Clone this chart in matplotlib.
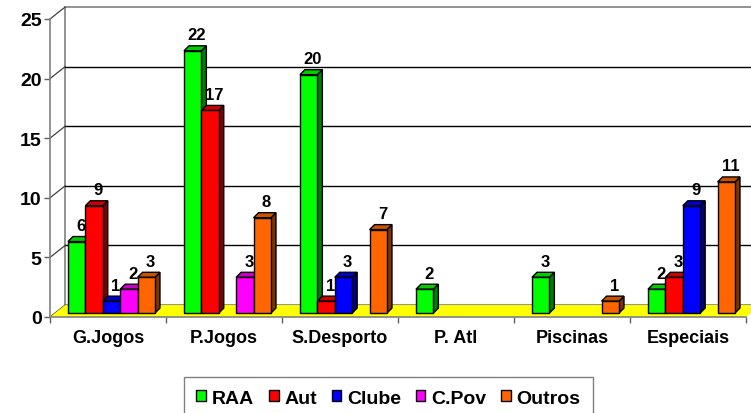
import matplotlib
matplotlib.use('Agg')
import matplotlib.pyplot as plt
import matplotlib.patches as mpatches
from matplotlib.colors import to_rgb

# data
categories = ['G.Jogos', 'P.Jogos', 'S.Desporto', 'P. Atl', 'Piscinas', 'Especiais']
series = ['RAA', 'Aut', 'Clube', 'C.Pov', 'Outros']
raa = [6, 22, 20, 2, 3, 2]
aut = [9, 17, 1, 0, 0, 3]
clube = [1, 0, 3, 0, 0, 9]
cpov = [2, 3, 0, 0, 0, 0]
outros = [3, 8, 7, 0, 1, 11]
values = [raa, aut, clube, cpov, outros]
colors = ['#00ff00', '#ff0000', '#0000ff', '#ff00ff', '#ff6600']
yticks = [0, 5, 10, 15, 20, 25]

plt.rcParams['font.family'] = ['Liberation Sans', 'DejaVu Sans']
plt.rcParams['font.weight'] = 'bold'

W, H = 751, 414
fig = plt.figure(figsize=(W / 100, H / 100), dpi=100)
ax = fig.add_axes([50 / W, 96 / H, 696 / W, 298 / H])
ax.set_xlim(0, len(categories))
ax.set_ylim(0, 25)
ax.set_facecolor('none')

# 3d look offsets (data units)
wall_dx, wall_dy = 0.13, 1.0
bar_dx, bar_dy = 0.043, 0.42
bar_w, group_x0, bar_base = 0.15, 0.155, 0.33
n = len(categories)

def shade(c, f):
    r, g, b = to_rgb(c)
    return (r * f, g * f, b * f)

# back wall
ax.add_patch(mpatches.Polygon([(wall_dx, wall_dy), (n + wall_dx, wall_dy),
                               (n + wall_dx, 25 + wall_dy), (wall_dx, 25 + wall_dy)],
                              closed=True, facecolor='white', edgecolor='#808080',
                              lw=1.2, clip_on=False, zorder=0))
for t in yticks[1:-1]:
    ax.plot([wall_dx, n + wall_dx], [t + wall_dy, t + wall_dy], color='black',
            lw=1, clip_on=False, zorder=0.5)
# left wall diagonals
for t in yticks:
    ax.plot([0, wall_dx], [t, t + wall_dy], color='#404040', lw=0.9,
            clip_on=False, zorder=0.5)
# floor
ax.add_patch(mpatches.Polygon([(0, 0), (n, 0), (n + wall_dx, wall_dy), (wall_dx, wall_dy)],
                              closed=True, facecolor='#ffff00', edgecolor='none',
                              clip_on=False, zorder=1))

# bars
for i in range(n):
    for j, s in enumerate(series):
        v = values[j][i]
        if v == 0:
            continue
        left = i + group_x0 + j * bar_w
        right = left + bar_w
        top = bar_base + v
        z = 3 + j * 0.1
        ax.add_patch(mpatches.Polygon([(right, bar_base), (right + bar_dx, bar_base + bar_dy),
                                       (right + bar_dx, top + bar_dy), (right, top)],
                                      closed=True, facecolor=shade(colors[j], 0.5),
                                      edgecolor='black', lw=1, zorder=z, clip_on=False))
        ax.add_patch(mpatches.Polygon([(left, top), (left + bar_dx, top + bar_dy),
                                       (right + bar_dx, top + bar_dy), (right, top)],
                                      closed=True, facecolor=shade(colors[j], 0.8),
                                      edgecolor='black', lw=1, zorder=z, clip_on=False))
        ax.bar(left, v, width=bar_w, bottom=bar_base, align='edge', color=colors[j],
               edgecolor='black', linewidth=1, zorder=z + 0.01, clip_on=False)
        ax.text(left + bar_w / 2 + bar_dx / 2 + 0.015, top + bar_dy + 0.3, str(v),
                ha='center', va='bottom', fontsize=12, fontweight='bold', zorder=10)

# axes styling
for sp in ['top', 'right']:
    ax.spines[sp].set_visible(False)
for sp in ['left', 'bottom']:
    ax.spines[sp].set_color('#808080')
    ax.spines[sp].set_linewidth(1.2)
    ax.spines[sp].set_zorder(2)

ax.set_yticks(yticks)
ax.set_yticklabels([str(t) for t in yticks], fontsize=14, fontweight='bold')
ax.tick_params(axis='y', length=4, width=1, color='#606060', pad=2)

ax.set_xticks(range(n + 1))
ax.set_xticklabels([])
ax.tick_params(axis='x', which='major', length=4, width=1, color='#606060')
ax.set_xticks([i + 0.5 for i in range(n)], minor=True)
ax.set_xticklabels(categories, minor=True, fontsize=13, fontweight='bold')
ax.tick_params(axis='x', which='minor', length=0, pad=9)

# legend
handles = [mpatches.Patch(facecolor=c, edgecolor='black', label=s)
           for s, c in zip(series, colors)]
fig.legend(handles=handles, loc='upper center', bbox_to_anchor=(388.5 / W, 1 - 378 / H),
           ncol=5, prop={'weight': 'bold', 'size': 14},
           handlelength=0.5, handleheight=0.5, handletextpad=0.3, columnspacing=0.75,
           borderpad=0.65, borderaxespad=0, frameon=True, fancybox=False,
           edgecolor='#808080', framealpha=1)

fig.savefig('out.png', dpi=100)
